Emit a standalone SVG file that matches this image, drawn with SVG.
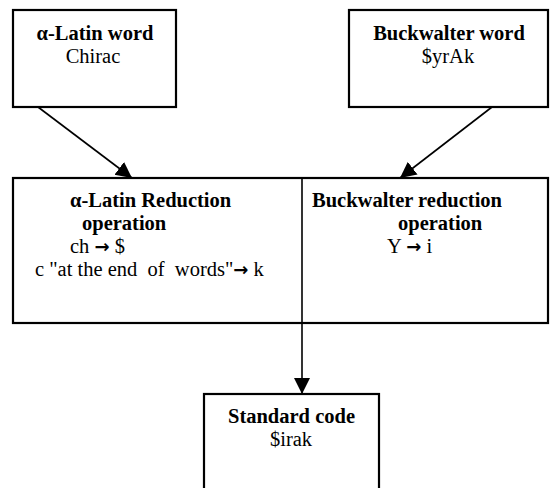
<svg xmlns="http://www.w3.org/2000/svg" width="560" height="488" viewBox="0 0 560 488">
  <style>
    .box { fill: #ffffff; stroke: #000000; stroke-width: 2.2; }
    .edge { fill: none; stroke: #000000; stroke-width: 1.6; }
    .t { font-family: "Liberation Serif", "Times New Roman", serif; font-size: 20.5px; fill: #000000; }
    .b { font-weight: bold; }
    .c { text-anchor: middle; }
    .arr { font-family: "DejaVu Sans", sans-serif; font-weight: bold; font-size: 18px; }
  </style>
  <defs>
    <marker id="arrow" markerUnits="userSpaceOnUse" markerWidth="17" markerHeight="17" refX="16" refY="8" orient="auto">
      <path d="M0,0 L16,8 L0,16 Z" fill="#000000"/>
    </marker>
  </defs>

  <!-- source word boxes -->
  <g id="latin-word">
    <rect class="box" x="13" y="10" width="163" height="97"/>
    <text class="t b c" x="95" y="40">α-Latin word</text>
    <text class="t c" x="93" y="63">Chirac</text>
  </g>

  <g id="buckwalter-word">
    <rect class="box" x="349" y="10" width="199" height="97"/>
    <text class="t b c" x="449" y="40">Buckwalter word</text>
    <text class="t c" x="448" y="63">$yrAk</text>
  </g>

  <!-- reduction operations, shared frame split by the centre line -->
  <g id="reduction">
    <rect class="box" x="13" y="178" width="535" height="145"/>
    <g id="latin-reduction">
      <text class="t b" x="70" y="207">α-Latin Reduction</text>
      <text class="t b" x="82" y="230">operation</text>
      <text class="t" x="70" y="253">ch <tspan class="arr">→</tspan> $</text>
      <text class="t" x="35" y="276" xml:space="preserve">c "at the end  of  words"<tspan class="arr">→</tspan> k</text>
    </g>
    <g id="buckwalter-reduction">
      <text class="t b" x="312" y="207">Buckwalter reduction</text>
      <text class="t b" x="398" y="230">operation</text>
      <text class="t" x="387" y="253">Y <tspan class="arr">→</tspan> i</text>
    </g>
  </g>

  <g id="standard-code">
    <rect class="box" x="204" y="394" width="175" height="110"/>
    <text class="t b c" x="291.5" y="423">Standard code</text>
    <text class="t c" x="291" y="446">$irak</text>
  </g>

  <g id="connectors">
    <line class="edge" x1="38" y1="107" x2="132" y2="178" marker-end="url(#arrow)"/>
    <line class="edge" x1="492" y1="107" x2="400" y2="178" marker-end="url(#arrow)"/>
    <line class="edge" x1="302" y1="178" x2="302" y2="394" marker-end="url(#arrow)"/>
  </g>
</svg>
